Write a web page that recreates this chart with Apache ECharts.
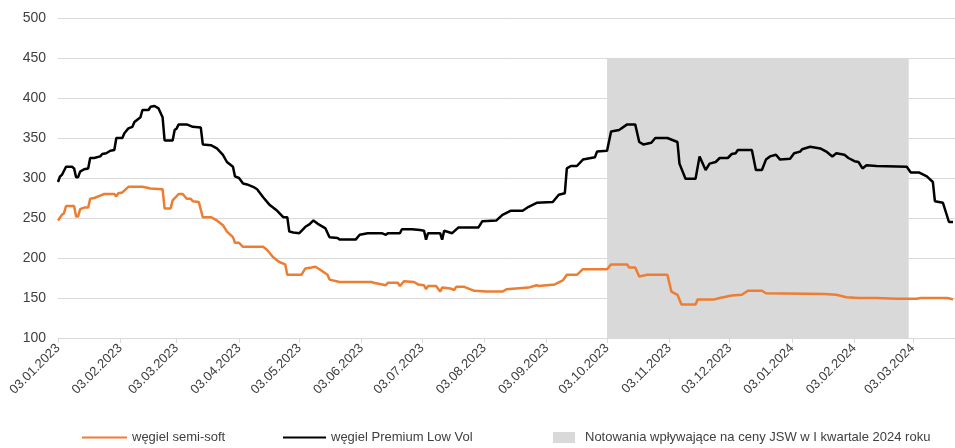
<!DOCTYPE html>
<html>
<head>
<meta charset="utf-8">
<script src="https://cdn.jsdelivr.net/npm/echarts@6/dist/echarts.min.js"></script>
<style>html,body{margin:0;padding:0;background:#fff}#c{width:955px;height:448px}</style>
</head>
<body>
<div id="c"></div>
<script>
const seriesNames = ['węgiel semi-soft', 'węgiel Premium Low Vol', 'Notowania wpływające na ceny JSW w I kwartale 2024 roku'];
const tickLabels = ['03.01.2023','03.02.2023','03.03.2023','03.04.2023','03.05.2023','03.06.2023','03.07.2023','03.08.2023','03.09.2023','03.10.2023','03.11.2023','03.12.2023','03.01.2024','03.02.2024','03.03.2024'];
const yTicks = [100, 500, 50];
const xRange = ['2023-01-03', '2024-03-24'];
const shadeRange = [['2023-10-03', 100], ['2024-03-01', 450]];

const semiSoft = [
['2023-01-03',247],['2023-01-05',254],['2023-01-06',256],['2023-01-07',265],['2023-01-11',265],['2023-01-12',252],['2023-01-13',252],['2023-01-14',261],['2023-01-16',263],['2023-01-18',263],['2023-01-19',274],['2023-01-21',275],['2023-01-24',278],['2023-01-26',280],['2023-01-31',280],['2023-02-01',277],['2023-02-02',281],['2023-02-04',282],['2023-02-07',289],['2023-02-14',289],['2023-02-18',287],['2023-02-24',286],['2023-02-25',262],['2023-02-28',262],['2023-03-01',272],['2023-03-04',280],['2023-03-06',280],['2023-03-08',274],['2023-03-10',274],['2023-03-11',271],['2023-03-14',270],['2023-03-16',251],['2023-03-20',251],['2023-03-23',247],['2023-03-26',241],['2023-03-28',233],['2023-03-31',226],['2023-04-01',219],['2023-04-03',219],['2023-04-05',214],['2023-04-15',214],['2023-04-17',210],['2023-04-20',201],['2023-04-23',195],['2023-04-26',192],['2023-04-27',179],['2023-05-04',179],['2023-05-06',187],['2023-05-09',188],['2023-05-11',189],['2023-05-13',186],['2023-05-17',179],['2023-05-18',173],['2023-05-23',170],['2023-06-08',170],['2023-06-09',169],['2023-06-15',166],['2023-06-16',169],['2023-06-21',169],['2023-06-22',165],['2023-06-24',171],['2023-06-29',170],['2023-07-01',167],['2023-07-04',166],['2023-07-05',161],['2023-07-06',165],['2023-07-10',165],['2023-07-12',158],['2023-07-13',163],['2023-07-17',162],['2023-07-19',160],['2023-07-20',164],['2023-07-24',164],['2023-07-29',159],['2023-08-04',158],['2023-08-12',158],['2023-08-14',161],['2023-08-25',163],['2023-08-29',166],['2023-08-30',165],['2023-09-07',167],['2023-09-11',172],['2023-09-13',179],['2023-09-18',179],['2023-09-21',186],['2023-10-03',186],['2023-10-05',192],['2023-10-13',192],['2023-10-14',188],['2023-10-17',188],['2023-10-19',177],['2023-10-23',179],['2023-11-02',179],['2023-11-04',158],['2023-11-07',154],['2023-11-09',142],['2023-11-16',142],['2023-11-17',148],['2023-11-25',148],['2023-11-28',150],['2023-12-04',153],['2023-12-09',154],['2023-12-12',159],['2023-12-19',159],['2023-12-21',156],['2024-01-19',155],['2024-01-25',154],['2024-01-30',151],['2024-02-05',150],['2024-02-14',150],['2024-02-24',149],['2024-03-05',149],['2024-03-07',150],['2024-03-20',150],['2024-03-22',149],['2024-03-23',148]
];

const premiumLowVol = [
['2023-01-03',295],['2023-01-04',302],['2023-01-05',304],['2023-01-07',314],['2023-01-10',314],['2023-01-11',312],['2023-01-12',301],['2023-01-13',301],['2023-01-14',308],['2023-01-16',311],['2023-01-18',312],['2023-01-19',325],['2023-01-21',325],['2023-01-24',327],['2023-01-25',330],['2023-01-27',331],['2023-01-29',334],['2023-01-31',335],['2023-02-01',350],['2023-02-04',350],['2023-02-05',356],['2023-02-07',362],['2023-02-09',364],['2023-02-10',370],['2023-02-13',376],['2023-02-14',385],['2023-02-17',385],['2023-02-18',389],['2023-02-20',390],['2023-02-22',387],['2023-02-24',376],['2023-02-25',347],['2023-03-01',347],['2023-03-02',360],['2023-03-03',362],['2023-03-04',367],['2023-03-08',367],['2023-03-11',364],['2023-03-15',363],['2023-03-16',342],['2023-03-20',341],['2023-03-23',337],['2023-03-26',329],['2023-03-28',320],['2023-03-31',314],['2023-04-01',302],['2023-04-03',300],['2023-04-05',293],['2023-04-07',292],['2023-04-10',289],['2023-04-12',286],['2023-04-15',276],['2023-04-18',267],['2023-04-22',259],['2023-04-25',251],['2023-04-27',251],['2023-04-28',233],['2023-04-30',232],['2023-05-03',231],['2023-05-06',239],['2023-05-08',242],['2023-05-10',247],['2023-05-12',243],['2023-05-16',237],['2023-05-18',226],['2023-05-22',225],['2023-05-23',223],['2023-05-31',223],['2023-06-02',229],['2023-06-06',231],['2023-06-13',231],['2023-06-15',229],['2023-06-16',231],['2023-06-22',231],['2023-06-23',236],['2023-06-28',236],['2023-07-02',235],['2023-07-04',234],['2023-07-05',223],['2023-07-06',231],['2023-07-12',231],['2023-07-13',223],['2023-07-14',234],['2023-07-18',231],['2023-07-21',238],['2023-07-31',238],['2023-08-02',246],['2023-08-09',247],['2023-08-12',254],['2023-08-16',259],['2023-08-22',259],['2023-08-25',264],['2023-08-29',269],['2023-09-06',270],['2023-09-09',279],['2023-09-12',281],['2023-09-13',312],['2023-09-15',315],['2023-09-18',315],['2023-09-21',323],['2023-09-27',326],['2023-09-28',333],['2023-10-03',334],['2023-10-05',358],['2023-10-09',360],['2023-10-13',367],['2023-10-17',367],['2023-10-19',345],['2023-10-21',342],['2023-10-25',344],['2023-10-27',350],['2023-11-02',350],['2023-11-07',345],['2023-11-08',318],['2023-11-11',299],['2023-11-16',299],['2023-11-18',327],['2023-11-21',310],['2023-11-23',318],['2023-11-26',320],['2023-11-28',325],['2023-12-02',325],['2023-12-04',330],['2023-12-06',331],['2023-12-07',335],['2023-12-14',335],['2023-12-16',310],['2023-12-19',310],['2023-12-21',323],['2023-12-23',327],['2023-12-26',329],['2023-12-28',323],['2024-01-02',324],['2024-01-04',331],['2024-01-07',333],['2024-01-08',336],['2024-01-12',339],['2024-01-17',337],['2024-01-20',333],['2024-01-23',327],['2024-01-25',331],['2024-01-29',329],['2024-01-31',325],['2024-02-03',321],['2024-02-05',320],['2024-02-07',312],['2024-02-09',316],['2024-02-14',315],['2024-02-29',314],['2024-03-02',307],['2024-03-06',307],['2024-03-10',302],['2024-03-13',295],['2024-03-14',271],['2024-03-18',269],['2024-03-21',245],['2024-03-23',245]
];

function toTime(s) {
  let y, m, d;
  if (s.indexOf('.') >= 0) { [d, m, y] = s.split('.').map(Number); }
  else { [y, m, d] = s.split('-').map(Number); }
  return Date.UTC(y, m - 1, d);
}
const tickTimes = tickLabels.map(toTime);
const font = 'Liberation Sans, Arial, sans-serif';
const textColor = '#404040';
const gridColor = '#d9d9d9';
const legendText = {fontSize: 13, fontFamily: font, color: textColor};

const chart = echarts.init(document.getElementById('c'), null, {renderer: 'canvas'});
chart.setOption({
  animation: false,
  backgroundColor: '#fff',
  textStyle: {fontFamily: font},
  grid: {left: 58, right: 0, top: 18, bottom: 110, containLabel: false},
  xAxis: {
    type: 'value',
    min: toTime(xRange[0]),
    max: toTime(xRange[1]),
    axisLine: {show: true, lineStyle: {color: gridColor, width: 1}},
    axisTick: {show: true, customValues: tickTimes, length: 5, lineStyle: {color: gridColor}},
    splitLine: {show: false},
    axisLabel: {
      customValues: tickTimes,
      rotate: 45,
      margin: 8,
      fontSize: 13,
      fontFamily: font,
      color: textColor,
      showMinLabel: true,
      showMaxLabel: true,
      formatter: function (v) { const i = tickTimes.indexOf(v); return i >= 0 ? tickLabels[i] : ''; }
    }
  },
  yAxis: {
    type: 'value',
    min: yTicks[0], max: yTicks[1], interval: yTicks[2],
    axisLine: {show: false},
    axisTick: {show: false},
    splitLine: {lineStyle: {color: gridColor, width: 1}},
    axisLabel: {fontSize: 14, fontFamily: font, color: textColor, margin: 12}
  },
  legend: [
    {
      data: [{name: seriesNames[0], icon: 'rect'}],
      left: 82, top: 431, padding: 0, itemWidth: 45, itemHeight: 2,
      textStyle: legendText
    },
    {
      data: [{name: seriesNames[1], icon: 'rect'}],
      left: 283, top: 431, padding: 0, itemWidth: 43, itemHeight: 2,
      textStyle: legendText
    },
    {
      data: [{name: seriesNames[2], icon: 'rect'}],
      left: 553, top: 431, padding: 0, itemWidth: 22, itemHeight: 11,
      textStyle: Object.assign({}, legendText, {padding: [0, 0, 0, 5]})
    }
  ],
  series: [
    {
      name: seriesNames[2],
      type: 'line',
      data: [],
      z: 1,
      itemStyle: {color: '#d9d9d9'},
      lineStyle: {color: '#d9d9d9'},
      markArea: {
        silent: true,
        itemStyle: {color: '#d9d9d9', opacity: 1},
        data: [[{xAxis: toTime(shadeRange[0][0]), yAxis: shadeRange[0][1]}, {xAxis: toTime(shadeRange[1][0]), yAxis: shadeRange[1][1]}]]
      }
    },
    {
      name: seriesNames[0],
      type: 'line',
      data: semiSoft.map(p => [toTime(p[0]), p[1]]),
      showSymbol: false,
      z: 3,
      itemStyle: {color: '#ed7d31'},
      lineStyle: {color: '#ed7d31', width: 2.5}
    },
    {
      name: seriesNames[1],
      type: 'line',
      data: premiumLowVol.map(p => [toTime(p[0]), p[1]]),
      showSymbol: false,
      z: 4,
      itemStyle: {color: '#000'},
      lineStyle: {color: '#000', width: 2.5}
    }
  ]
});
</script>
</body>
</html>
